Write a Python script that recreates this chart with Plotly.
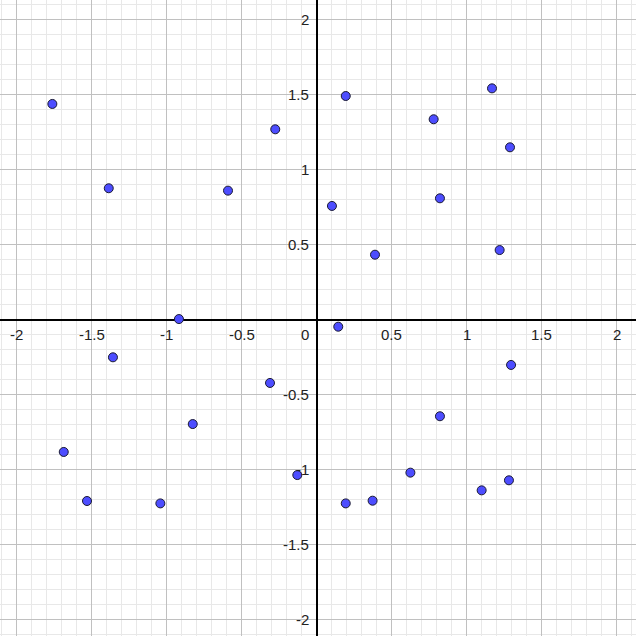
import plotly.graph_objects as go

# Points
xs = [0.195, 0.781, 1.17, 1.29, 0.103, 0.823, 0.39, 1.221,
      -1.761, -1.385, -0.59, -0.275, -0.917,
      -1.357, -0.31, -0.825, -1.685, -1.53, -1.041, -0.128,
      0.145, 1.297, 0.823, 0.626, 0.195, 0.374, 1.101, 1.283]
ys = [1.49, 1.335, 1.541, 1.148, 0.757, 0.808, 0.432, 0.463,
      1.437, 0.875, 0.859, 1.268, 0.003,
      -0.252, -0.423, -0.697, -0.883, -1.21, -1.226, -1.037,
      -0.048, -0.303, -0.645, -1.021, -1.226, -1.208, -1.139, -1.072]

x_tick_vals = [-2, -1.5, -1, -0.5, 0.5, 1, 1.5, 2]
x_tick_text = ["-2", "-1.5", "-1", "-0.5", "0.5", "1", "1.5", "2"]
y_tick_vals = [-2, -1.5, -1, -0.5, 0.5, 1, 1.5, 2]
y_tick_text = ["-2", "-1.5", "-1", "-0.5", "0.5", "1", "1.5", "2"]

FONT = "Liberation Sans, Arial, sans-serif"
LABEL_FONT = dict(family=FONT, size=15, color="#222222")

fig = go.Figure()
fig.add_trace(go.Scatter(
    x=xs, y=ys, mode="markers",
    marker=dict(size=9, color="#4d4dff", line=dict(color="#1a1a33", width=1)),
    hoverinfo="skip", showlegend=False,
))

annotations = []
for v, t in zip(x_tick_vals, x_tick_text):
    annotations.append(dict(x=v, y=0, xref="x", yref="y", text=t, showarrow=False,
                            xanchor="center", yanchor="top", yshift=-4,
                            font=LABEL_FONT))
for v, t in zip(y_tick_vals, y_tick_text):
    annotations.append(dict(x=0, y=v, xref="x", yref="y", text=t, showarrow=False,
                            xanchor="right", yanchor="middle", xshift=-6,
                            font=LABEL_FONT))
annotations.append(dict(x=0, y=0, xref="x", yref="y", text="0", showarrow=False,
                        xanchor="right", yanchor="top", xshift=-6, yshift=-4,
                        font=LABEL_FONT))

axis_common = dict(
    tick0=0, dtick=0.5, showgrid=True, gridcolor="#c0c0c0", gridwidth=1,
    minor=dict(dtick=0.1, tick0=0, showgrid=True, gridcolor="#e8e8e8", gridwidth=1),
    zeroline=True, zerolinecolor="#000000", zerolinewidth=1.5,
    showticklabels=False, ticks="", showline=False, fixedrange=True,
)

fig.update_layout(
    width=636, height=636,
    margin=dict(l=0, r=0, t=0, b=0),
    paper_bgcolor="white", plot_bgcolor="white",
    xaxis=dict(range=[-2.11, 2.13], **axis_common),
    yaxis=dict(range=[-2.11, 2.13], **axis_common),
    annotations=annotations,
    showlegend=False,
)

fig.write_html(
    "out.html",
    config={"displayModeBar": False},
    post_script="document.body.style.margin='0';document.body.style.overflow='hidden';",
)
